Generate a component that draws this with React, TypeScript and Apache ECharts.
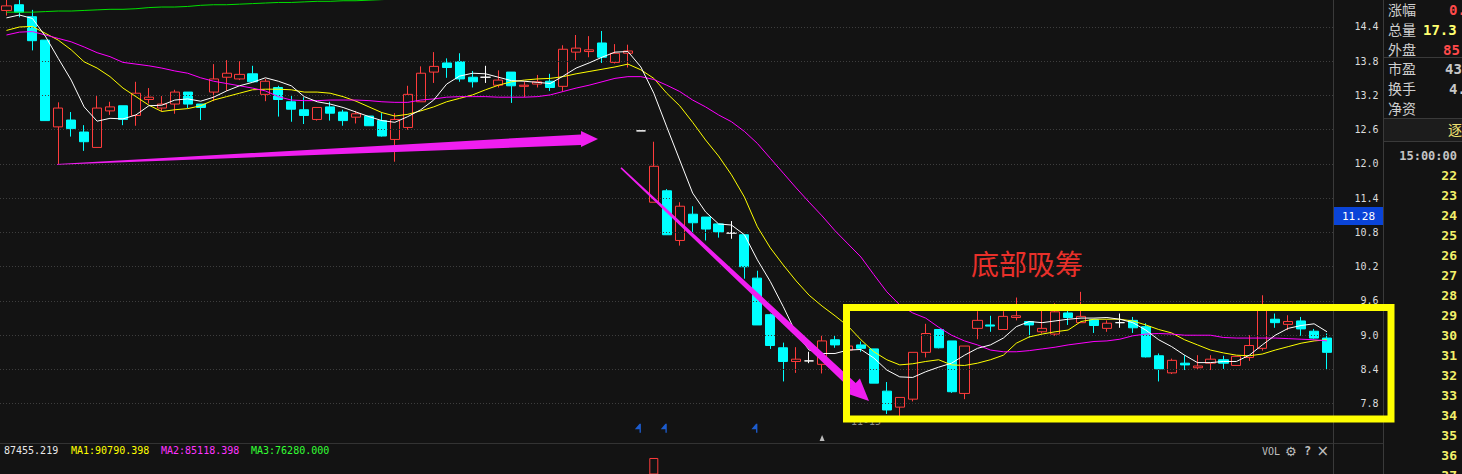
import React, { useEffect, useRef } from "react";
import * as echarts from "echarts";

// ---------- data ----------
const dayLabels = Array.from({ length: 103 }, (_, i) => `D${i + 1}`);

// [open, close, low, high]
const candles: number[][] = [
  [14.69, 14.77, 14.6, 14.95], [14.79, 14.66, 14.57, 14.9], [14.58, 14.16, 13.99, 14.7], [14.17, 12.76, 12.76, 14.17],
  [12.65, 12.98, 12.0, 13.08], [12.77, 12.62, 12.48, 12.91], [12.56, 12.39, 12.23, 12.68], [12.29, 12.98, 12.29, 13.19],
  [12.93, 13.0, 12.86, 13.09], [13.02, 12.78, 12.68, 13.02], [12.85, 13.24, 12.67, 13.44], [13.13, 13.17, 13.06, 13.33],
  [12.98, 13.05, 12.92, 13.19], [13.05, 13.26, 12.88, 13.3], [13.26, 13.05, 12.98, 13.26], [13.05, 12.99, 12.77, 13.05],
  [13.26, 13.49, 13.1, 13.75], [13.52, 13.59, 13.28, 13.82], [13.49, 13.57, 13.47, 13.8], [13.58, 13.44, 13.44, 13.72],
  [13.22, 13.45, 13.1, 13.49], [13.34, 13.13, 12.83, 13.37], [13.09, 12.96, 12.74, 13.21], [12.95, 12.85, 12.7, 13.17],
  [12.78, 12.99, 12.76, 12.99], [13.0, 12.89, 12.76, 13.09], [12.91, 12.76, 12.67, 12.95], [12.82, 12.88, 12.71, 12.93],
  [12.84, 12.67, 12.67, 12.84], [12.76, 12.49, 12.48, 12.89], [12.43, 12.78, 12.04, 12.89], [12.64, 13.22, 12.6, 13.37],
  [13.09, 13.59, 13.09, 13.71], [13.61, 13.71, 13.42, 13.96], [13.77, 13.69, 13.51, 13.85], [13.79, 13.49, 13.44, 13.94],
  [13.52, 13.44, 13.34, 13.63], [13.52, 13.52, 13.42, 13.72], [13.38, 13.47, 13.34, 13.64], [13.61, 13.37, 13.07, 13.61],
  [13.36, 13.38, 13.17, 13.45], [13.4, 13.44, 13.34, 13.56], [13.45, 13.34, 13.28, 13.58], [13.36, 14.01, 13.27, 14.08],
  [13.96, 14.03, 13.82, 14.26], [13.97, 14.0, 13.87, 14.24], [14.12, 13.87, 13.77, 14.33], [13.78, 13.94, 13.76, 14.1],
  [13.94, 13.98, 13.69, 14.09], [12.58, 12.58, 12.58, 12.58], [11.33, 11.96, 11.33, 12.39], [11.53, 10.76, 10.76, 11.56],
  [10.66, 11.26, 10.57, 11.33], [11.12, 10.97, 10.81, 11.26], [11.07, 10.86, 10.66, 11.07], [10.95, 10.81, 10.71, 10.95],
  [10.79, 10.79, 10.69, 11.0], [10.76, 10.2, 9.99, 10.76], [10.0, 9.18, 9.18, 10.13], [9.36, 8.82, 8.76, 9.38],
  [8.78, 8.54, 8.19, 8.87], [8.54, 8.58, 8.34, 8.79], [8.55, 8.55, 8.51, 8.71], [8.49, 8.9, 8.33, 8.99],
  [8.92, 8.83, 8.78, 8.99], [8.74, 8.81, 8.74, 8.81], [8.83, 8.77, 8.71, 8.89], [8.76, 8.16, 8.16, 8.76],
  [8.02, 7.69, 7.62, 8.18], [7.74, 7.91, 7.58, 7.91], [7.88, 8.7, 7.84, 8.7], [8.7, 9.03, 8.61, 9.2],
  [9.1, 8.78, 8.77, 9.1], [8.9, 8.01, 7.99, 8.9], [7.98, 8.81, 7.88, 8.81], [9.12, 9.26, 8.93, 9.42],
  [9.18, 9.16, 9.06, 9.34], [9.1, 9.33, 9.1, 9.42], [9.31, 9.34, 9.26, 9.66], [9.24, 9.18, 8.96, 9.24],
  [9.06, 9.12, 9.03, 9.44], [9.02, 9.41, 8.99, 9.56], [9.39, 9.31, 9.18, 9.44], [9.22, 9.33, 9.22, 9.76],
  [9.27, 9.17, 9.04, 9.27], [9.12, 9.21, 9.06, 9.26], [9.22, 9.22, 9.13, 9.38], [9.26, 9.13, 9.04, 9.32],
  [9.15, 8.62, 8.61, 9.21], [8.64, 8.41, 8.19, 8.68], [8.34, 8.56, 8.32, 8.59], [8.51, 8.48, 8.39, 8.65],
  [8.43, 8.46, 8.39, 8.65], [8.51, 8.58, 8.39, 8.65], [8.57, 8.51, 8.41, 8.64], [8.47, 8.63, 8.47, 8.63],
  [8.61, 8.82, 8.55, 9.0], [8.77, 9.44, 8.73, 9.7], [9.28, 9.22, 9.13, 9.38], [9.19, 9.24, 9.09, 9.35],
  [9.25, 9.11, 8.99, 9.32], [9.07, 8.95, 8.94, 9.11], [8.95, 8.7, 8.39, 9.03],
];

const ma5 = [
  14.56, 14.61, 14.55, 14.24, 13.85, 13.47, 13.0, 12.75, 12.8, 12.79,
  12.86, 13.02, 13.03, 13.12, 13.14, 13.1, 13.17, 13.28, 13.37, 13.43,
  13.51, 13.45, 13.37, 13.18, 13.09, 13.05, 12.99, 12.91, 12.83, 12.76,
  12.73, 12.83, 12.95, 13.12, 13.4, 13.54, 13.59, 13.58, 13.52, 13.46,
  13.45, 13.43, 13.41, 13.54, 13.68, 13.77, 13.87, 13.96, 13.97, 13.7,
  13.24, 12.65, 12.07, 11.49, 11.16, 10.95, 10.93, 10.76, 10.32, 9.94,
  9.5, 9.03, 8.74, 8.68, 8.68, 8.74, 8.75, 8.6, 8.39, 8.27,
  8.26, 8.36, 8.44, 8.51, 8.65, 8.77, 8.83, 8.95, 9.15, 9.24,
  9.22, 9.25, 9.28, 9.3, 9.3, 9.31, 9.28, 9.22, 9.09, 8.92,
  8.8, 8.65, 8.52, 8.52, 8.54, 8.54, 8.65, 8.83, 9.0, 9.12,
  9.17, 9.2, 9.06,
];
const ma10 = [
  14.34, 14.4, 14.41, 14.29, 14.17, 14.0, 13.79, 13.68, 13.53, 13.33,
  13.18, 13.03, 12.92, 12.95, 12.97, 13.02, 13.12, 13.18, 13.24, 13.3,
  13.31, 13.31, 13.3, 13.26, 13.26, 13.24, 13.18, 13.1, 13.0, 12.9,
  12.84, 12.87, 12.93, 13.0, 13.09, 13.15, 13.21, 13.3, 13.38, 13.44,
  13.47, 13.49, 13.5, 13.53, 13.58, 13.62, 13.66, 13.7, 13.75, 13.65,
  13.5, 13.24, 13.02, 12.73, 12.42, 12.14, 11.81, 11.42, 10.9, 10.53,
  10.23, 9.95, 9.7, 9.51, 9.34, 9.16, 8.92, 8.71, 8.57, 8.48,
  8.5, 8.54, 8.57, 8.48, 8.47, 8.51, 8.57, 8.65, 8.86, 8.97,
  9.02, 9.06, 9.09, 9.24, 9.28, 9.28, 9.28, 9.25, 9.18, 9.1,
  9.04, 8.92, 8.83, 8.74, 8.69, 8.65, 8.64, 8.67, 8.74, 8.8,
  8.86, 8.9, 8.92,
];
const ma20 = [
  14.26, 14.31, 14.32, 14.26, 14.2, 14.14, 14.05, 13.95, 13.88, 13.78,
  13.75, 13.72, 13.68, 13.63, 13.59, 13.51, 13.45, 13.41, 13.37, 13.33,
  13.28, 13.18, 13.12, 13.11, 13.11, 13.12, 13.12, 13.12, 13.11, 13.09,
  13.08, 13.08, 13.12, 13.14, 13.17, 13.18, 13.18, 13.18, 13.17, 13.17,
  13.17, 13.18, 13.21, 13.27, 13.33, 13.38, 13.44, 13.5, 13.53, 13.53,
  13.48, 13.38, 13.27, 13.12, 13.0, 12.86, 12.74, 12.57, 12.36, 12.1,
  11.84, 11.58, 11.33, 11.09, 10.83, 10.6, 10.37, 10.06, 9.76, 9.53,
  9.39, 9.3, 9.14, 9.0, 8.9, 8.83, 8.74, 8.71, 8.71, 8.73,
  8.76, 8.79, 8.83, 8.86, 8.89, 8.9, 8.93, 8.99, 9.02, 9.03,
  9.02, 9.0, 9.0, 9.0, 8.96, 8.95, 8.95, 8.95, 8.95, 8.94,
  8.93, 8.92, 8.9,
];
// long average: only its first part is inside the picture, then it leaves through the top
const ma60 = [
  14.66, 14.66, 14.66, 14.67, 14.68, 14.68, 14.69, 14.7, 14.71, 14.71,
  14.72, 14.74, 14.75, 14.75, 14.76, 14.78, 14.79, 14.79, 14.8, 14.81,
  14.82, 14.83, 14.83, 14.84, 14.85, 14.85, 14.86, 14.86, 14.87, 14.88, 14.89,
];

const priceTicks = [14.4, 13.8, 13.2, 12.6, 12.0, 11.4, 10.8, 10.2, 9.6, 9.0, 8.4, 7.8];
const signalDays = [49, 51, 58];
const signalLevel = 7.37;
const lowMarkDays = [63];
const lowMarkLevel = 7.2;
const volumeBars = [[50, 437500], [102, 87455.219]];

const volLegend = ["87455.219", "MA1:90790.398", "MA2:85118.398", "MA3:76280.000"];
const quoteLabels = ["涨幅", "总量", "外盘", "市盈", "换手", "净资"];
const quoteValues = ["0.", "17.3", "85", "43", "4.", ""];
const orderRows = [22, 23, 24, 25, 26, 27, 28, 29, 30, 31, 32, 33, 34, 35, 36, 37];
const lastPriceTag = "11.28";
const noteText = "底部吸筹";

// ---------- styles ----------
const BG = "#131313";
const UP = "#ff3c3c";
const DOWN = "#00ffff";
const MONO = "'DejaVu Sans Mono', 'Liberation Mono', monospace";
const CJK = "'Noto Sans CJK SC', 'Noto Sans', sans-serif";

function txt(text: string, x: number, y: number, fill: string, size: number, o: any = {}) {
  return {
    type: "text",
    x,
    y,
    silent: true,
    z: o.z ?? 60,
    style: {
      text,
      fill,
      fontSize: size,
      fontFamily: o.family ?? MONO,
      fontWeight: o.weight ?? "normal",
      align: o.align ?? "left",
      verticalAlign: "middle",
    },
  };
}
function hline(x1: number, x2: number, y: number, c = "#3a3a3a") {
  return { type: "line", silent: true, z: 40, shape: { x1, y1: y, x2, y2: y }, style: { stroke: c, lineWidth: 1 } };
}
function vline(x: number, y1: number, y2: number, c = "#3a3a3a") {
  return { type: "line", silent: true, z: 40, shape: { x1: x, y1, x2: x, y2 }, style: { stroke: c, lineWidth: 1 } };
}

export default function App() {
  const ref = useRef<HTMLDivElement>(null);

  useEffect(() => {
    document.body.style.margin = "0";
    document.body.style.background = BG;
    if (!ref.current) return;
    const chart = echarts.init(ref.current, undefined, { renderer: "svg" });

    const candleData = candles.map((c) =>
      c[0] === c[1]
        ? {
            value: c,
            itemStyle: {
              color: "#ffffff", color0: "#ffffff", borderColor: "#ffffff",
              borderColor0: "#ffffff", borderColorDoji: "#ffffff",
            },
          }
        : c
    );

    const graphics: any[] = [
      // frame lines
      hline(0, 1383, 443.5, "#333333"),
      vline(1333.5, 0, 474, "#3a3a3a"),
      vline(1383.5, 0, 474, "#3a3a3a"),
      // right panel
      hline(1383, 1462, 57.5),
      hline(1383, 1462, 118.5),
      { type: "rect", silent: true, z: 39, shape: { x: 1384, y: 119, width: 78, height: 22 }, style: { fill: "#1c1c1c" } },
      hline(1383, 1462, 141.5),
      txt("逐", 1448, 129, "#f0e070", 14, { family: CJK }),
      txt("15:00:00", 1457, 155.5, "#c4c4c4", 12, { align: "right", weight: "bold" }),
      // last price tag
      { type: "rect", silent: true, z: 45, shape: { x: 1334, y: 207, width: 49, height: 18 }, style: { fill: "#0a44d8" } },
      txt(lastPriceTag, 1358.5, 216.5, "#ffffff", 11, { align: "center" }),
      // volume pane legend
      txt(volLegend[0], 4, 450.5, "#e8e8e8", 10),
      txt(volLegend[1], 71, 450.5, "#ffff00", 10),
      txt(volLegend[2], 161, 450.5, "#ff33ff", 10),
      txt(volLegend[3], 251, 450.5, "#33ff33", 10),
      txt("VOL", 1262, 451, "#bdbdbd", 10),
      txt("⚙", 1285, 451, "#bdbdbd", 13, { family: "'DejaVu Sans', sans-serif" }),
      txt("?", 1304, 451, "#bdbdbd", 12, { weight: "bold" }),
      txt("×", 1316.5, 451, "#bdbdbd", 15, { family: "'DejaVu Sans', sans-serif" }),
      // hidden date label under the box
      txt("11-15", 866, 421.5, "#8a8a8a", 10, { align: "center", z: 55 }),
      // annotations
      {
        type: "polygon", silent: true, z: 90,
        shape: { points: [[57, 164], [581, 134.5], [581, 131], [598, 139], [581, 147], [581, 145], [57, 164.8]] },
        style: { fill: "#f01ef0" },
      },
      {
        type: "polygon", silent: true, z: 90,
        shape: { points: [[621.5, 167.3], [855.7, 383.0], [859.9, 378.6], [869, 401], [846.1, 393.2], [850.3, 388.8], [620.5, 168.5]] },
        style: { fill: "#f01ef0" },
      },
      {
        type: "rect", silent: true, z: 100,
        shape: { x: 846.5, y: 307.5, width: 544.5, height: 111.5 },
        style: { fill: null, stroke: "#ffff00", lineWidth: 7 },
      },
      txt(noteText, 971, 263, "#e8302a", 28, { family: CJK, z: 95 }),
    ];
    const qy = [8.5, 28.5, 48.5, 68, 88, 108];
    const qx = [1449, 1423, 1443, 1445, 1449, 1460];
    const qc = ["#ff4a4a", "#ffff70", "#ff4a4a", "#c8c8c8", "#c8c8c8", "#c8c8c8"];
    quoteLabels.forEach((l, i) => {
      graphics.push(txt(l, 1388, qy[i], "#cfcfcf", 14, { family: CJK }));
      if (quoteValues[i]) graphics.push(txt(quoteValues[i], qx[i], qy[i] + 1, qc[i], 14, { weight: "bold" }));
    });
    orderRows.forEach((n, i) => {
      graphics.push(txt(String(n), 1457, 175.5 + 20 * i, "#f2f06a", 13, { align: "right", weight: "bold" }));
    });

    const lineS = (data: number[], color: string, z = 5) => ({
      type: "line",
      data,
      xAxisIndex: 0,
      yAxisIndex: 0,
      showSymbol: false,
      symbol: "none",
      silent: true,
      z,
      lineStyle: { color, width: 1 },
    });

    chart.setOption({
      animation: false,
      backgroundColor: BG,
      grid: [
        { left: 0, top: 0, width: 1333.5, height: 472.2 },
        { left: 0, top: 443, width: 1333.5, height: 31 },
      ],
      xAxis: [
        { type: "category", data: dayLabels, gridIndex: 0, boundaryGap: true, show: false },
        { type: "category", data: dayLabels, gridIndex: 1, boundaryGap: true, show: false },
      ],
      yAxis: [
        {
          type: "value",
          gridIndex: 0,
          position: "right",
          min: 6.6,
          max: 14.873,
          interval: 0.6,
          splitLine: { show: false },
          axisLine: { show: false },
          axisTick: { show: false },
          axisLabel: {
            show: true,
            align: "right",
            margin: 45,
            color: "#dcdcdc",
            fontFamily: MONO,
            fontSize: 10,
            showMinLabel: false,
            showMaxLabel: false,
            formatter: (v: number) => (priceTicks.some((t) => Math.abs(t - v) < 1e-6) ? v.toFixed(1) : ""),
          },
        },
        { type: "value", gridIndex: 1, min: 300000, max: 566000, show: false },
      ],
      graphic: graphics,
      series: [
        {
          type: "candlestick",
          data: candleData,
          xAxisIndex: 0,
          yAxisIndex: 0,
          barWidth: 9.6,
          silent: true,
          z: 3,
          itemStyle: {
            color: "transparent",
            color0: DOWN,
            borderColor: UP,
            borderColor0: DOWN,
            borderWidth: 1,
          },
          markLine: {
            silent: true,
            symbol: "none",
            label: { show: false },
            lineStyle: { color: "#3e3e3e", type: [1, 2], width: 1 },
            data: priceTicks.map((t) => ({ yAxis: t })),
          },
        },
        lineS(ma5, "#ffffff", 6),
        lineS(ma10, "#ffff00", 5),
        lineS(ma20, "#ff00ff", 5),
        lineS(ma60, "#00e000", 5),
        {
          type: "scatter",
          xAxisIndex: 0,
          yAxisIndex: 0,
          silent: true,
          z: 7,
          data: signalDays.map((d) => [d, signalLevel]),
          symbol: "path://M4.7,0 L6,0 L6,8.7 L4.7,8.7 L4.7,5.3 L0,5.3 Z",
          symbolSize: [6, 9],
          symbolOffset: [-3, 0],
          itemStyle: { color: "#1f6fff" },
        },
        {
          type: "scatter",
          xAxisIndex: 0,
          yAxisIndex: 0,
          silent: true,
          z: 7,
          data: lowMarkDays.map((d) => [d, lowMarkLevel]),
          symbol: "triangle",
          symbolSize: [5, 6],
          itemStyle: { color: "#e6e6e6" },
        },
        {
          type: "bar",
          xAxisIndex: 1,
          yAxisIndex: 1,
          silent: true,
          clip: true,
          barWidth: 9,
          data: volumeBars,
          itemStyle: { color: "transparent", borderColor: UP, borderWidth: 1 },
        },
      ],
    });

    return () => chart.dispose();
  }, []);

  return <div ref={ref} style={{ width: 1462, height: 474, background: BG }} />;
}
